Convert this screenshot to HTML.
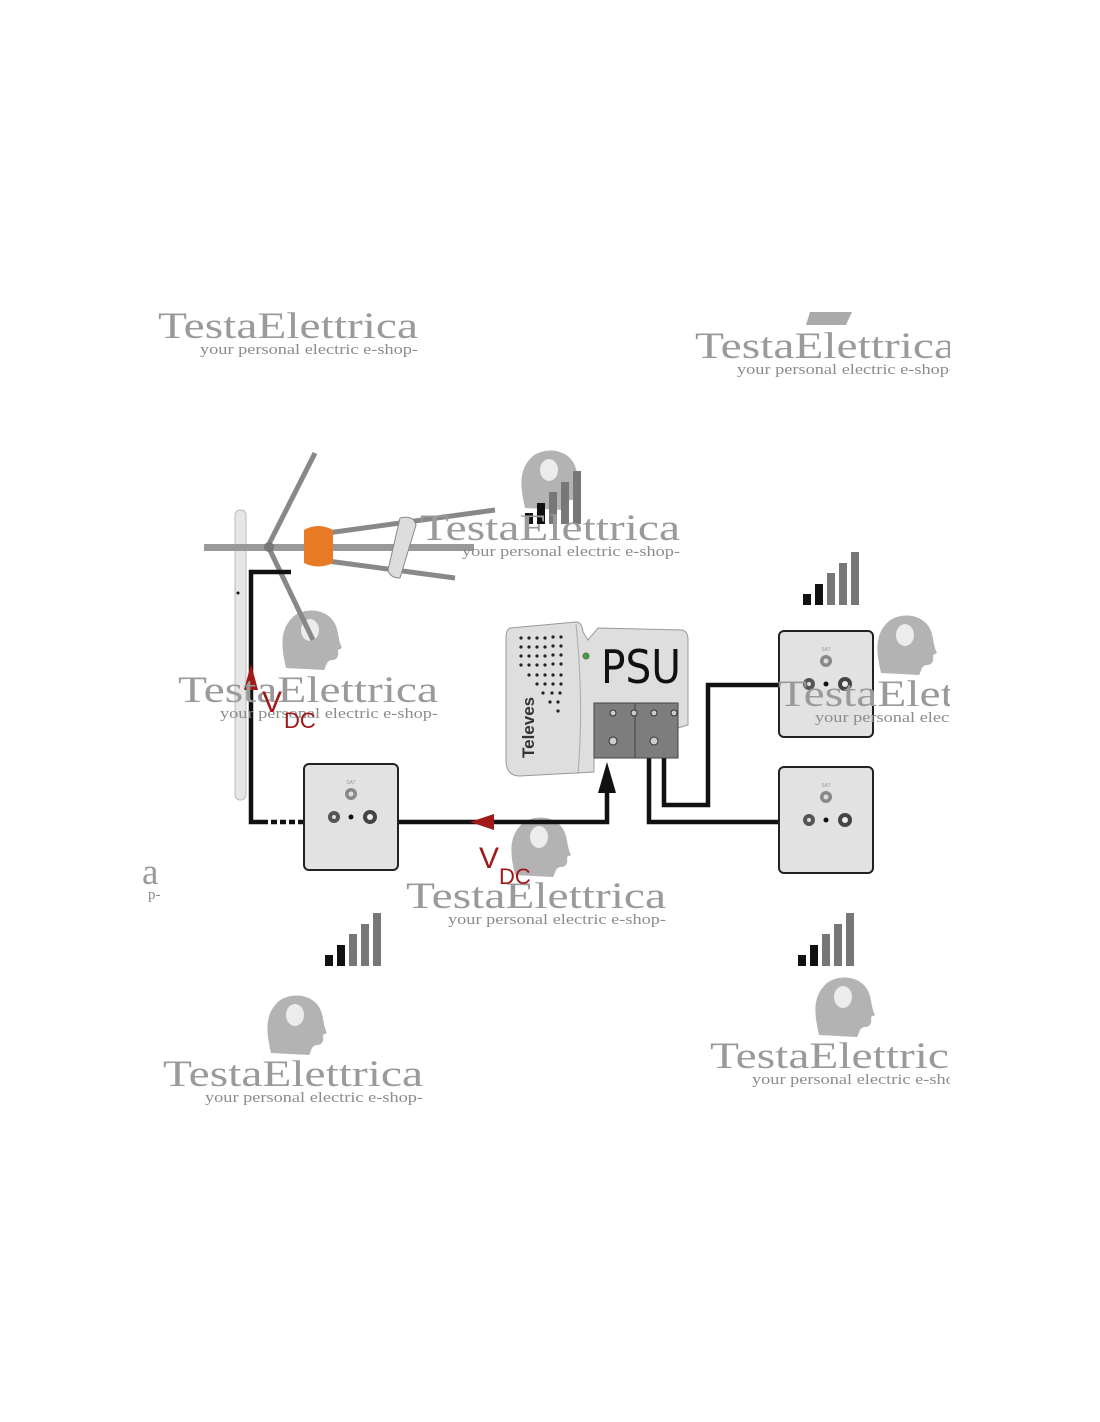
<!DOCTYPE html>
<html><head><meta charset="utf-8"><style>
html,body{margin:0;padding:0;background:#fff}
svg{display:block}
.wm{font-family:"Liberation Serif","DejaVu Serif",serif;fill:#9a9a9a;font-size:37px}
.ws{font-family:"Liberation Serif","DejaVu Serif",serif;fill:#8c8c8c;font-size:15px}
</style></head><body>
<svg width="1100" height="1422" viewBox="0 0 1100 1422" xmlns="http://www.w3.org/2000/svg">
<defs>
<clipPath id="c950"><rect x="0" y="0" width="950" height="1422"/></clipPath>
<g id="head"><path d="M-22,28 C-26,10 -30,-10 -14,-24 C0,-34 22,-30 28,-14 C31,-6 30,0 34,8 L30,10 C31,16 29,20 24,20 C18,20 18,28 16,30 Z" fill="#b3b3b3"/><ellipse cx="2" cy="-10" rx="9" ry="11" fill="#ececec"/></g>
<g id="bars"><rect x="0" y="42" width="8" height="11" fill="#111"/><rect x="12" y="32" width="8" height="21" fill="#111"/><rect x="24" y="21" width="8" height="32" fill="#777"/><rect x="36" y="11" width="8" height="42" fill="#777"/><rect x="48" y="0" width="8" height="53" fill="#777"/></g>
<g id="plate"><rect x="0" y="0" width="94" height="106" rx="5" fill="#e2e2e2" stroke="#222" stroke-width="2"/><text x="47" y="20" font-size="5" fill="#999" text-anchor="middle" font-family="Liberation Sans">SAT</text><circle cx="47" cy="30" r="6" fill="#888"/><circle cx="47" cy="30" r="2.5" fill="#ddd"/><circle cx="30" cy="53" r="6" fill="#555"/><circle cx="30" cy="53" r="2" fill="#ddd"/><circle cx="47" cy="53" r="2.5" fill="#111"/><circle cx="66" cy="53" r="7" fill="#444"/><circle cx="66" cy="53" r="3" fill="#eee"/></g>
</defs>

<!-- heads behind -->
<use href="#head" x="308" y="640"/>
<use href="#head" x="547" y="480"/>
<use href="#head" x="903" y="645"/>
<use href="#head" x="537" y="847"/>
<use href="#head" x="293" y="1025"/>
<use href="#head" x="841" y="1007"/>

<!-- antenna -->
<rect x="235" y="510" width="11" height="290" rx="5" fill="#e6e6e6" stroke="#bbb"/>
<circle cx="238" cy="593" r="1.5" fill="#111"/>
<rect x="204" y="544" width="270" height="7" fill="#999"/>
<line x1="268" y1="546" x2="315" y2="453" stroke="#888" stroke-width="5"/>
<line x1="268" y1="546" x2="313" y2="640" stroke="#888" stroke-width="5"/>
<line x1="320" y1="534" x2="495" y2="510" stroke="#888" stroke-width="5"/>
<line x1="320" y1="560" x2="455" y2="578" stroke="#888" stroke-width="5"/>
<circle cx="269" cy="547" r="5" fill="#777"/>
<path d="M304,530 Q318,522 333,530 L333,563 Q318,570 304,563 Z" fill="#e87a25"/>
<path d="M400,518 Q414,515 416,525 L400,578 Q390,578 388,570 Z" fill="#ddd" stroke="#888"/>

<!-- signal bars -->
<use href="#bars" x="525" y="471"/>
<use href="#bars" x="803" y="552"/>
<use href="#bars" x="325" y="913"/>
<use href="#bars" x="798" y="913"/>

<!-- cables -->
<g fill="none" stroke="#111" stroke-width="4.5">
<polyline points="291,572 251,572 251,822 262,822"/>
<line x1="262" y1="822" x2="304" y2="822" stroke-dasharray="6,3"/>
<polyline points="399,822 607,822 607,790"/>
<polyline points="649,756 649,822 779,822"/>
<polyline points="664,756 664,805 708,805 708,685 779,685"/>
</g>
<polygon points="598,793 616,793 607,762" fill="#111"/>
<polygon points="470,822 494,814 494,830" fill="#a01818"/>
<polygon points="251,664 244,690 258,690" fill="#a01818"/>

<!-- PSU -->
<path d="M510,628 L576,622 Q582,622 583,632 L588,640 L598,628 L682,630 Q688,631 688,640 L688,725 L678,728 L678,758 L594,758 L594,772 L520,776 Q506,776 506,760 L506,638 Q506,630 510,628 Z" fill="#dedede" stroke="#999"/>
<path d="M576,624 Q584,700 578,774" fill="none" stroke="#aaa"/>
<g fill="#222">
<g id="dr"><circle cx="521" cy="638" r="1.6"/><circle cx="529" cy="638" r="1.6"/><circle cx="537" cy="638" r="1.6"/><circle cx="545" cy="638" r="1.6"/><circle cx="553" cy="637" r="1.6"/><circle cx="561" cy="637" r="1.6"/></g>
<use href="#dr" y="9"/><use href="#dr" y="18"/><use href="#dr" y="27"/>
<circle cx="529" cy="675" r="1.6"/><circle cx="537" cy="675" r="1.6"/><circle cx="545" cy="675" r="1.6"/><circle cx="553" cy="675" r="1.6"/><circle cx="561" cy="675" r="1.6"/>
<circle cx="537" cy="684" r="1.6"/><circle cx="545" cy="684" r="1.6"/><circle cx="553" cy="684" r="1.6"/><circle cx="561" cy="684" r="1.6"/>
<circle cx="543" cy="693" r="1.6"/><circle cx="552" cy="693" r="1.6"/><circle cx="560" cy="693" r="1.6"/>
<circle cx="550" cy="702" r="1.6"/><circle cx="558" cy="702" r="1.6"/><circle cx="558" cy="711" r="1.6"/>
</g>
<circle cx="586" cy="656" r="3" fill="#3a3" stroke="#666"/>
<text x="601" y="683" font-family="DejaVu Sans, Liberation Sans, sans-serif" font-size="46" fill="#111" textLength="80" lengthAdjust="spacingAndGlyphs">PSU</text>
<text transform="translate(534,758) rotate(-90)" font-family="Liberation Sans, sans-serif" font-weight="bold" font-size="17" fill="#333">Televes</text>
<rect x="594" y="703" width="84" height="55" fill="#7d7d7d" stroke="#444"/>
<line x1="635" y1="703" x2="635" y2="758" stroke="#444"/>
<g fill="#ccc" stroke="#333"><circle cx="613" cy="741" r="4"/><circle cx="654" cy="741" r="4"/><circle cx="613" cy="713" r="3"/><circle cx="634" cy="713" r="3"/><circle cx="654" cy="713" r="3"/><circle cx="674" cy="713" r="3"/></g>

<!-- plates -->
<use href="#plate" x="304" y="764"/>
<use href="#plate" x="779" y="631"/>
<use href="#plate" x="779" y="767"/>

<!-- watermarks (on top) -->
<g>
<text class="wm" x="158" y="338" textLength="260" lengthAdjust="spacingAndGlyphs">TestaElettrica</text>
<text class="ws" x="200" y="354" textLength="218" lengthAdjust="spacingAndGlyphs">your personal electric e-shop-</text>
<text class="wm" x="420" y="540" textLength="260" lengthAdjust="spacingAndGlyphs">TestaElettrica</text>
<text class="ws" x="462" y="556" textLength="218" lengthAdjust="spacingAndGlyphs">your personal electric e-shop-</text>
<text class="wm" x="178" y="702" textLength="260" lengthAdjust="spacingAndGlyphs">TestaElettrica</text>
<text class="ws" x="220" y="718" textLength="218" lengthAdjust="spacingAndGlyphs">your personal electric e-shop-</text>
<text class="wm" x="406" y="908" textLength="260" lengthAdjust="spacingAndGlyphs">TestaElettrica</text>
<text class="ws" x="448" y="924" textLength="218" lengthAdjust="spacingAndGlyphs">your personal electric e-shop-</text>
<text class="wm" x="163" y="1086" textLength="260" lengthAdjust="spacingAndGlyphs">TestaElettrica</text>
<text class="ws" x="205" y="1102" textLength="218" lengthAdjust="spacingAndGlyphs">your personal electric e-shop-</text>
<g clip-path="url(#c950)">
<text class="wm" x="695" y="358" textLength="260" lengthAdjust="spacingAndGlyphs">TestaElettrica</text>
<text class="ws" x="737" y="374" textLength="218" lengthAdjust="spacingAndGlyphs">your personal electric e-shop-</text>
<text class="wm" x="778" y="706" textLength="260" lengthAdjust="spacingAndGlyphs">TestaElettrica</text>
<text class="ws" x="815" y="722" textLength="218" lengthAdjust="spacingAndGlyphs">your personal electric e-shop-</text>
<text class="wm" x="710" y="1068" textLength="260" lengthAdjust="spacingAndGlyphs">TestaElettrica</text>
<text class="ws" x="752" y="1084" textLength="218" lengthAdjust="spacingAndGlyphs">your personal electric e-shop-</text>
</g>
<text class="wm" x="142" y="884" font-size="30">a</text>
<text class="ws" x="148" y="899">p-</text>
<path d="M810,312 L852,312 L846,325 L806,325 Z" fill="#aaa"/>
</g>

<!-- VDC labels -->
<g font-family="Liberation Sans, sans-serif" fill="#a01818">
<text x="262" y="712" font-size="30">V</text><text x="284" y="728" font-size="22">DC</text>
<text x="479" y="868" font-size="30">V</text><text x="499" y="884" font-size="22">DC</text>
</g>
</svg>
</body></html>
